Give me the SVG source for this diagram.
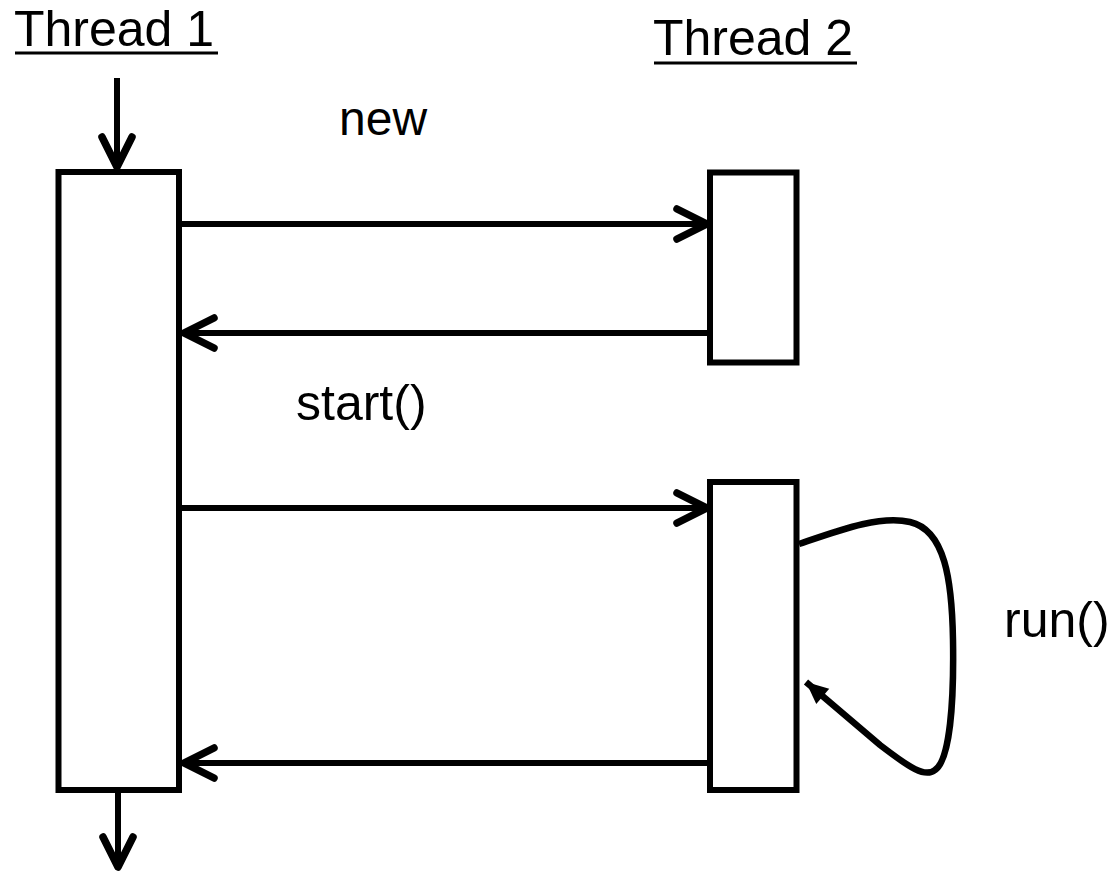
<svg xmlns="http://www.w3.org/2000/svg" width="1117" height="871" viewBox="0 0 1117 871">
<style>
.box{fill:#fff;stroke:#000;stroke-width:6}
.ln{fill:none;stroke:#000;stroke-width:6}
.lbl{font-family:"Liberation Sans",Arial,sans-serif;font-size:50px;fill:#000}
.ul{stroke:#000;stroke-width:3}
</style>
<defs>
<marker id="chev" markerUnits="userSpaceOnUse" markerWidth="50" markerHeight="50" viewBox="-40 -25 50 50" refX="0" refY="0" orient="auto">
<path d="M-30,-15 L0,0 L-30,15" fill="none" stroke="#000" stroke-width="7.5" stroke-linecap="round" stroke-linejoin="round"/>
</marker>
<marker id="tri" markerUnits="userSpaceOnUse" markerWidth="30" markerHeight="30" viewBox="-25 -15 30 30" refX="0" refY="0" orient="auto">
<path d="M0,0 L-22,-10 L-22,10 Z" fill="#000"/>
</marker>
</defs>
<g id="title1">
<text class="lbl" x="14" y="46">Thread 1</text>
<line class="ul" x1="15" y1="53" x2="218" y2="53"/>
</g>
<g id="title2">
<text class="lbl" x="653" y="55">Thread 2</text>
<line class="ul" x1="654" y1="63" x2="857" y2="63"/>
</g>
<g id="thread1">
<rect class="box" x="58.5" y="172" width="120.5" height="618"/>
</g>
<g id="thread2a">
<rect class="box" x="710" y="172.5" width="86.5" height="190"/>
</g>
<g id="thread2b">
<rect class="box" x="710" y="482" width="86.5" height="308"/>
</g>
<g id="connectors">
<line class="ln" x1="117" y1="78" x2="117" y2="167" marker-end="url(#chev)"/>
<line class="ln" x1="118" y1="793" x2="118" y2="867" marker-end="url(#chev)"/>
<line class="ln" x1="182" y1="224" x2="707" y2="224" marker-end="url(#chev)"/>
<line class="ln" x1="710" y1="333" x2="184" y2="333" marker-end="url(#chev)"/>
<line class="ln" x1="182" y1="508" x2="707" y2="508" marker-end="url(#chev)"/>
<line class="ln" x1="710" y1="763" x2="184" y2="763" marker-end="url(#chev)"/>
<path class="ln" style="stroke-width:6.5" d="M799,544 C840,530 880,515 910,522 C945,530 952,580 953,640 C954,700 950,760 935,770 C925,778 910,768 880,745 L806,682" marker-end="url(#tri)"/>
</g>
<g id="labels">
<text class="lbl" x="339" y="135" style="font-size:48px">new</text>
<text class="lbl" x="296" y="420">start()</text>
<text class="lbl" x="1004" y="637">run()</text>
</g>
</svg>
